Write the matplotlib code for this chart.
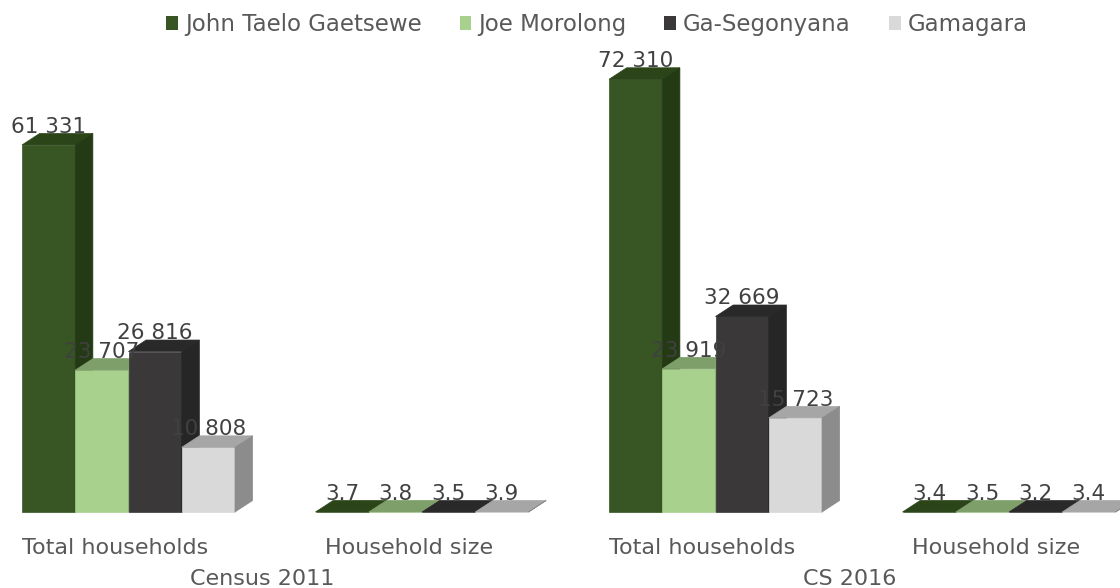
import matplotlib.pyplot as plt
from matplotlib.patches import Patch, Polygon

# Households per municipality, John Taolo Gaetsewe district
municipalities = ["John Taelo Gaetsewe", "Joe Morolong", "Ga-Segonyana", "Gamagara"]
measures = ["Total households", "Household size"]
periods = ["Census 2011", "CS 2016"]

households_2011 = [61331, 23707, 26816, 10808]
household_size_2011 = [3.7, 3.8, 3.5, 3.9]
households_2016 = [72310, 23919, 32669, 15723]
household_size_2016 = [3.4, 3.5, 3.2, 3.4]

front_colors = ["#375623", "#a9d18e", "#3a3838", "#d9d9d9"]
top_colors = ["#2b4519", "#7f9f6a", "#2a2929", "#a6a6a6"]
side_colors = ["#243a15", "#8aa876", "#262626", "#8c8c8c"]

plt.rcParams["font.family"] = "DejaVu Sans"

fig = plt.figure(figsize=(11.2, 5.88), dpi=100)
ax = fig.add_axes([0, 0, 1, 1])
ax.set_xlim(-0.4378, 3.378)
ax.set_ylim(-12700, 85555)
ax.axis("off")

bar_w = 0.1814          # width of one front face, in category units
depth_x = 0.060         # oblique depth of the 3D boxes
depth_y = 1920

groups = [households_2011, household_size_2011, households_2016, household_size_2016]


def fmt(v):
    if v >= 1000:
        return f"{v:,.0f}".replace(",", " ")
    return f"{v:.1f}"


for i, vals in enumerate(groups):
    left = i - 2 * bar_w
    for j, v in enumerate(vals):
        x0 = left + j * bar_w
        x1 = x0 + bar_w
        z = 2 + j
        ax.bar(x0, v, width=bar_w, align="edge", color=front_colors[j],
               edgecolor=front_colors[j], linewidth=0.5, zorder=z)
        top = [(x0, v), (x1, v), (x1 + depth_x, v + depth_y), (x0 + depth_x, v + depth_y)]
        side = [(x1, 0), (x1 + depth_x, depth_y), (x1 + depth_x, v + depth_y), (x1, v)]
        ax.add_patch(Polygon(top, closed=True, facecolor=top_colors[j],
                             edgecolor=top_colors[j], lw=0.5, zorder=z))
        ax.add_patch(Polygon(side, closed=True, facecolor=side_colors[j],
                             edgecolor=side_colors[j], lw=0.5, zorder=z))
        ax.text(x0 + bar_w / 2, v + depth_y + 100, fmt(v), ha="center", va="baseline",
                fontsize=15.5, color="#404040", zorder=10)

# category and period labels under the boxes
xt = ax.get_xaxis_transform()
for i in range(len(groups)):
    ax.text(i - 0.044, 0.058, measures[i % 2], transform=xt, ha="center",
            va="baseline", fontsize=16, color="#595959")
for p, name in enumerate(periods):
    ax.text(2 * p + 0.5 - 0.044, 0.005, name, transform=xt, ha="center",
            va="baseline", fontsize=16, color="#595959")

handles = [Patch(facecolor=c, edgecolor="none") for c in front_colors]
fig.legend(handles, municipalities, loc="center", bbox_to_anchor=(0.533, 0.958),
           ncol=4, frameon=False, fontsize=16.5, labelcolor="#595959",
           handlelength=0.52, handleheight=0.52, handletextpad=0.3,
           columnspacing=1.65)

fig.savefig("out.png", dpi=100)
